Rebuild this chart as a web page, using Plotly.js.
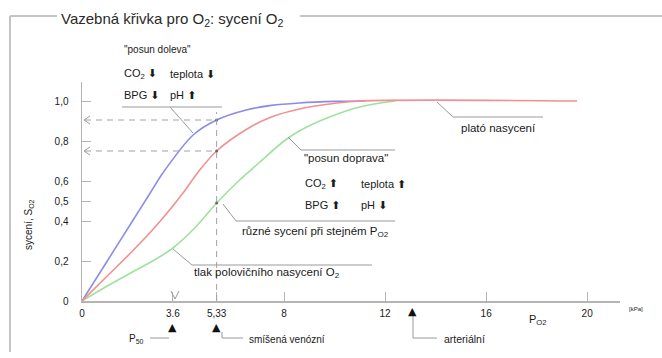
<!DOCTYPE html>
<html><head><meta charset="utf-8">
<script src="https://cdn.plot.ly/plotly-3.0.1.min.js"></script>
<style>html,body{margin:0;padding:0;background:#fff}#chart{width:662px;height:358px}</style>
</head><body><div id="chart"></div>
<script>
// ---- data ----
const bluePO2  = [0, 1, 2, 2.7, 3.2, 4.4, 5.33, 6.5, 7.5, 8.6, 10, 11.2];
const blueSat  = [0, 0.2, 0.4, 0.54, 0.64, 0.83, 0.905, 0.955, 0.978, 0.99, 0.998, 1.0];
const redPO2   = [0, 1, 2, 3, 4, 4.6, 5.33, 6.6, 7.5, 8.6, 9.8, 11, 19.6];
const redSat   = [0, 0.125, 0.25, 0.385, 0.54, 0.645, 0.75, 0.865, 0.92, 0.96, 0.985, 1.0, 1.0];
const greenPO2 = [0, 1, 2, 3, 3.6, 4.5, 5.33, 6.2, 7, 8, 8.6, 9.8, 11, 12.4];
const greenSat = [0, 0.075, 0.145, 0.215, 0.265, 0.37, 0.49, 0.6, 0.69, 0.8, 0.85, 0.92, 0.97, 1.0];
const xTickVals = [0, 3.6, 5.33, 8, 12, 16, 20];
const xTickText = ['0', '3.6', '5,33', '8', '12', '16', '20'];
const yTickVals = [0, 0.2, 0.4, 0.5, 0.6, 0.8, 1.0];
const yTickText = ['0', '0,2', '0,4', '0,5', '0,6', '0,8', '1,0'];
const p50 = 3.6, mixedVenous = 5.33, arterial = 13.1;

// ---- geometry helpers (pixel -> paper) ----
const L = 82, T = 82, W = 538, H = 219;
const px = x => (x - L) / W;
const py = y => (T + H - y) / H;
const FONT = 'Liberation Sans, Arial, sans-serif';
const TXT = '#1a1a1a';
const GRAY = '#9a9a9a';
const DN = '<span style="font-family:DejaVu Sans">⬇</span>';
const UP = '<span style="font-family:DejaVu Sans">⬆</span>';

const blueAtMV = blueSat[bluePO2.indexOf(mixedVenous)];
const redAtMV = redSat[redPO2.indexOf(mixedVenous)];
const greenAtMV = greenSat[greenPO2.indexOf(mixedVenous)];

const traces = [
  {x: greenPO2, y: greenSat, mode: 'lines', line: {color: '#9ee29e', width: 1.6, shape: 'spline', smoothing: 1}, hoverinfo: 'skip'},
  {x: bluePO2, y: blueSat, mode: 'lines', line: {color: '#8c8ce6', width: 1.6, shape: 'spline', smoothing: 0.9}, hoverinfo: 'skip'},
  {x: redPO2, y: redSat, mode: 'lines', line: {color: '#f09090', width: 1.6, shape: 'spline', smoothing: 0.9}, hoverinfo: 'skip'},
  {x: [mixedVenous, mixedVenous, mixedVenous], y: [blueAtMV, redAtMV, greenAtMV], mode: 'markers',
   marker: {color: '#666', size: 3}, hoverinfo: 'skip'}
];

function line(x0, y0, x1, y1, opts) {
  return Object.assign({type: 'line', xref: 'paper', yref: 'paper', x0: px(x0), y0: py(y0), x1: px(x1), y1: py(y1),
    line: {color: GRAY, width: 1}}, opts || {});
}
function path(pts, opts) {
  const d = pts.map((p, i) => (i ? 'L' : 'M') + px(p[0]) + ',' + py(p[1])).join(' ');
  return Object.assign({type: 'path', xref: 'paper', yref: 'paper', path: d, line: {color: GRAY, width: 1}}, opts || {});
}
const dash = {color: '#a0a0a0', width: 1, dash: '6px,5px'};

const shapes = [
  // frame
  line(10, 16, 57, 16, {line: {color: '#c4c4c4', width: 2}}),
  line(300, 16, 662, 16, {line: {color: '#c4c4c4', width: 2}}),
  line(10, 16, 10, 352, {line: {color: '#c4c4c4', width: 2}}),
  // dashed guide lines from data
  {type: 'line', xref: 'x', yref: 'y', x0: 0.12, x1: mixedVenous, y0: blueAtMV, y1: blueAtMV, line: dash},
  {type: 'line', xref: 'x', yref: 'y', x0: 0.12, x1: mixedVenous, y0: redAtMV, y1: redAtMV, line: dash},
  {type: 'line', xref: 'x', yref: 'y', x0: mixedVenous, x1: mixedVenous, y0: 0, y1: blueAtMV + 0.04, line: dash},
  // small arrowheads at axis end of dashed lines
  path([[90, 116], [84, 120], [90, 124]]),
  path([[90, 147], [84, 151], [90, 155]]),
  // V mark at P50 tick
  path([[171, 291], [175, 299], [179, 291]]),
  // "posun doleva" leader
  line(122, 107, 222, 107),
  line(170, 107, 193, 133),
  // plateau leader
  path([[437, 102], [453, 117], [543, 117]]),
  // "posun doprava" leader
  path([[288, 137], [301, 150], [395, 150]]),
  // "ruzne syceni" leader
  path([[223, 204], [236, 221], [395, 221]]),
  // "tlak polovicniho" leader
  path([[173, 249], [192, 265], [372, 265]]),
  // bottom leaders
  line(150, 338, 169, 338),
  path([[222, 332], [222, 338], [243, 338]]),
  path([[413, 316], [413, 338], [437, 338]])
];

function txt(x, y, text, size, o) {
  return Object.assign({xref: 'paper', yref: 'paper', x: px(x), y: py(y), text: text, showarrow: false,
    xanchor: 'left', yanchor: 'middle', font: {family: FONT, size: size, color: TXT}}, o || {});
}
const tri = (xv, yPix) => ({xref: 'x', yref: 'paper', x: xv, y: py(yPix), text: '▲', showarrow: false,
  xanchor: 'center', yanchor: 'middle', font: {family: 'DejaVu Sans', size: 11, color: '#111'}});
const annotations = [
  txt(122, 49, '"posun doleva"', 10),
  txt(122, 74, 'CO<sub>2</sub> ' + DN, 11),
  txt(168, 74, 'teplota ' + DN, 11),
  txt(122, 95, 'BPG ' + DN, 11),
  txt(168, 95, 'pH ' + UP, 11),
  txt(459, 128, 'plató nasycení', 11.5),
  txt(302, 158, '"posun doprava"', 11.5),
  txt(303, 184, 'CO<sub>2</sub> ' + UP, 11),
  txt(359, 184, 'teplota ' + UP, 11),
  txt(303, 205, 'BPG ' + UP, 11),
  txt(359, 205, 'pH ' + DN, 11),
  txt(240, 232, 'různé sycení při stejném P<sub>O2</sub>', 11.5),
  txt(192, 273, 'tlak polovičního nasycení O<sub>2</sub>', 11.5),
  txt(29, 225, 'sycení, S<sub>O2</sub>', 10, {xanchor: 'center', textangle: -90}),
  txt(627, 309, '[kPa]', 6),
  txt(527, 320, 'P<sub>O2</sub>', 11),
  txt(127, 339, 'P<sub>50</sub>', 10),
  txt(247, 339, 'smíšená venózní', 10),
  txt(442, 339, 'arteriální', 10.5),
  tri(p50, 327), tri(mixedVenous, 327), tri(arterial, 311)
];

const layout = {
  width: 662, height: 358,
  margin: {l: L, r: 662 - L - W, t: T, b: 358 - T - H, pad: 0},
  paper_bgcolor: '#fff', plot_bgcolor: '#fff',
  showlegend: false,
  title: {text: 'Vazebná křivka pro O<sub>2</sub>: sycení O<sub>2</sub>', xref: 'container', yref: 'container',
          x: 61 / 662, xanchor: 'left', y: 1 - 19 / 358, yanchor: 'middle',
          font: {family: FONT, size: 15, color: '#2a2a2a'}},
  xaxis: {range: [0, 21.3], showgrid: false, zeroline: false, showline: true, linecolor: '#b4b4b4', linewidth: 1.5,
          ticks: 'inside', ticklen: 9, tickcolor: '#b4b4b4', tickwidth: 1,
          tickvals: xTickVals, ticktext: xTickText, ticklabelstandoff: 2,
          tickfont: {family: FONT, size: 10, color: TXT}, fixedrange: true},
  yaxis: {range: [0, 1.095], showgrid: false, zeroline: false, showline: true, linecolor: '#b4b4b4', linewidth: 1.5,
          ticks: 'inside', ticklen: 9, tickcolor: '#b4b4b4', tickwidth: 1,
          tickvals: yTickVals, ticktext: yTickText, ticklabelstandoff: 10,
          tickfont: {family: FONT, size: 10, color: TXT}, fixedrange: true},
  shapes: shapes,
  annotations: annotations
};
Plotly.newPlot('chart', traces, layout, {displayModeBar: false, staticPlot: true});
</script></body></html>
